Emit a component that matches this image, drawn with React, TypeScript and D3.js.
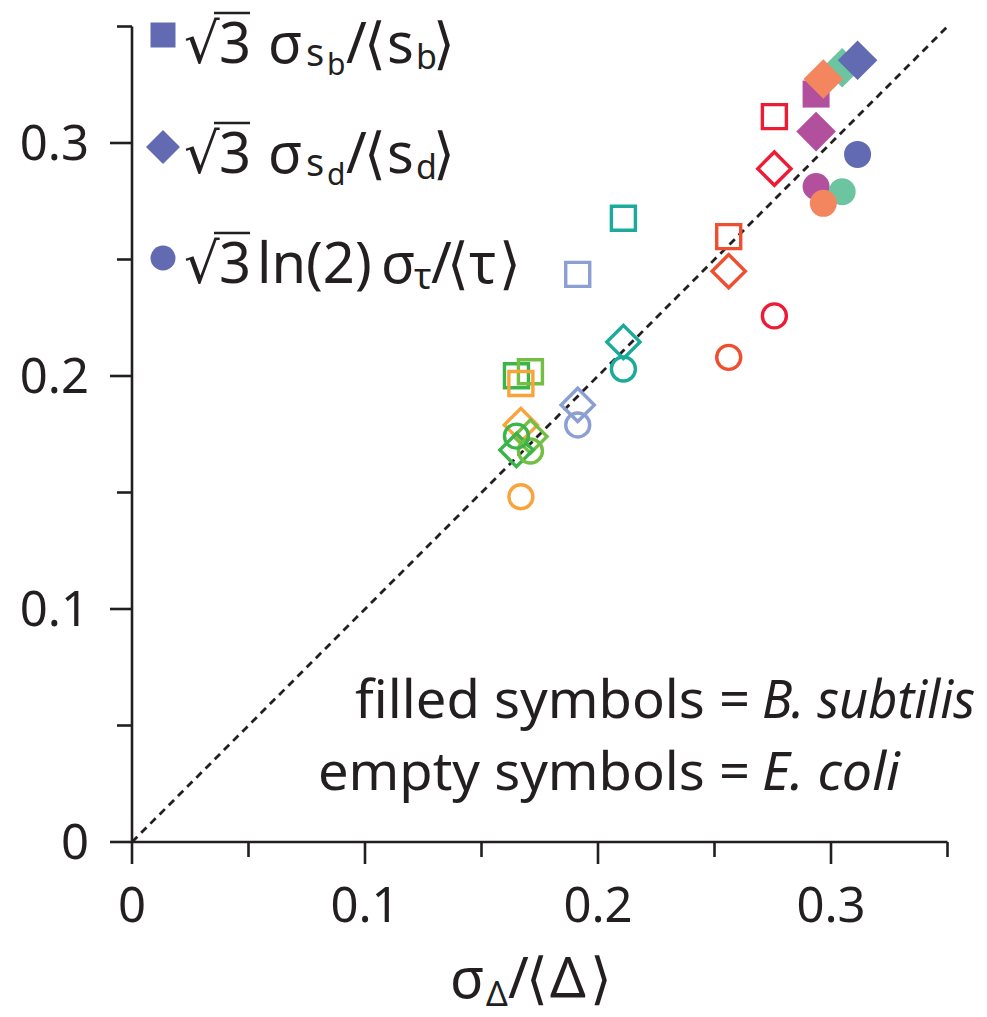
import React from "react";
import * as d3 from "d3";

// ---------- data ----------
const ecoliStrains = ["red", "redorange", "teal", "lightblue", "orange", "lightgreen", "darkgreen"];
const ecoliX = [0.2757, 0.2561, 0.2109, 0.1913, 0.1669, 0.1710, 0.1650];
const ecoliSb = [0.3113, 0.2598, 0.2677, 0.2436, 0.1968, 0.2018, 0.2001];
const ecoliSd = [0.2890, 0.2450, 0.2146, 0.1876, 0.1790, 0.1740, 0.1682];
const ecoliTau = [0.2258, 0.2080, 0.2030, 0.1790, 0.1482, 0.1678, 0.1742];

const bsubStrains = ["blue", "green", "orange", "magenta"];
const bsubX = [0.3114, 0.3048, 0.2967, 0.2936];
const bsubSb: (number | null)[] = [null, null, null, 0.3210];
const bsubSd = [0.3355, 0.3323, 0.3275, 0.3049];
const bsubTau = [0.2951, 0.2791, 0.2741, 0.2813];

const xTicksMajor = [0, 0.1, 0.2, 0.3];
const xTicksMinor = [0.05, 0.15, 0.25, 0.35];
const yTicksMajor = [0, 0.1, 0.2, 0.3];
const yTicksMinor = [0.05, 0.15, 0.25, 0.35];

const colors: Record<string, string> = {
  red: "#ed1c36",
  redorange: "#f04e30",
  teal: "#1aab9b",
  lightblue: "#8c9fd3",
  orange: "#f9a33b",
  lightgreen: "#72bf44",
  darkgreen: "#3bb44a",
  blue: "#626bb2",
  green: "#6cc5a0",
  salmon: "#f4865f",
  magenta: "#b2509e",
};
const bsubColor = (s: string) => (s === "orange" ? colors.salmon : colors[s]);

const W = 987;
const H = 1017;
const INK = "#231f20";
const FONT = "'Noto Sans', 'DejaVu Sans', sans-serif";

export default function App() {
  const x = d3.scaleLinear().domain([0, 0.35]).range([132, 947.5]);
  const y = d3.scaleLinear().domain([0, 0.35]).range([842, 26.5]);

  const sq = (side: number) => d3.symbol().type(d3.symbolSquare).size(side * side)()!;
  const circ = (r: number) => d3.symbol().type(d3.symbolCircle).size(Math.PI * r * r)()!;

  const emptyStroke = 3.4;
  const eSq = sq(24);
  const eDia = sq(23.5);
  const eCirc = circ(12);
  const fSq = sq(27);
  const fDia = sq(28);
  const fCirc = circ(13.5);

  const line = d3.line<[number, number]>().x((d) => x(d[0])).y((d) => y(d[1]));

  return (
    <svg
      width={W}
      height={H}
      viewBox={`0 0 ${W} ${H}`}
      style={{ position: "absolute", left: 0, top: 0, background: "#fff" }}
      fontFamily={FONT}
    >
      <rect width={W} height={H} fill="#fff" />
      {/* diagonal */}
      <path
        d={line([[0, 0], [0.35, 0.35]])!}
        stroke={INK}
        strokeWidth={2.8}
        strokeDasharray="7.5 5.5"
        fill="none"
      />

      {/* axes */}
      <g stroke={INK} strokeWidth={2.6} fill="none">
        <line x1={x(0)} x2={x(0)} y1={y(0.35)} y2={y(0)} />
        <line x1={x(0)} x2={x(0.35)} y1={y(0)} y2={y(0)} />
        {yTicksMajor.map((t) => (
          <line key={"ym" + t} x1={x(0) - 22} x2={x(0)} y1={y(t)} y2={y(t)} />
        ))}
        {yTicksMinor.map((t) => (
          <line key={"yn" + t} x1={x(0) - 15} x2={x(0)} y1={y(t)} y2={y(t)} />
        ))}
        {xTicksMajor.map((t) => (
          <line key={"xm" + t} x1={x(t)} x2={x(t)} y1={y(0)} y2={y(0) + 22} />
        ))}
        {xTicksMinor.map((t) => (
          <line key={"xn" + t} x1={x(t)} x2={x(t)} y1={y(0)} y2={y(0) + 15} />
        ))}
      </g>
      <g fill={INK} fontSize={49}>
        {yTicksMajor.map((t) => (
          <text key={"yl" + t} x={89} y={y(t) + 17} textAnchor="end">
            {t === 0 ? "0" : d3.format(".1f")(t)}
          </text>
        ))}
        {xTicksMajor.map((t) => (
          <text key={"xl" + t} x={x(t)} y={922} textAnchor="middle">
            {t === 0 ? "0" : d3.format(".1f")(t)}
          </text>
        ))}
      </g>

      {/* E. coli, empty symbols */}
      <g fill="none" strokeWidth={emptyStroke}>
        {ecoliStrains.map((s, i) => (
          <path key={"es" + s} d={eSq} stroke={colors[s]} transform={`translate(${x(ecoliX[i])},${y(ecoliSb[i])})`} />
        )).reverse()}
        {ecoliStrains.map((s, i) => (
          <path key={"ed" + s} d={eDia} stroke={colors[s]} transform={`translate(${x(ecoliX[i])},${y(ecoliSd[i])}) rotate(45)`} />
        ))}
        {ecoliStrains.map((s, i) => (
          <path key={"ec" + s} d={eCirc} stroke={colors[s]} transform={`translate(${x(ecoliX[i])},${y(ecoliTau[i])})`} />
        ))}
      </g>

      {/* B. subtilis, filled symbols */}
      <g stroke="none">
        {bsubStrains.map((s, i) =>
          bsubSb[i] == null ? null : (
            <path key={"fs" + s} d={fSq} fill={bsubColor(s)} transform={`translate(${x(bsubX[i])},${y(bsubSb[i] as number)})`} />
          )
        )}
        {[1, 0, 2, 3].map((i) => (
          <path key={"fd" + i} d={fDia} fill={bsubColor(bsubStrains[i])} transform={`translate(${x(bsubX[i])},${y(bsubSd[i])}) rotate(45)`} />
        ))}
        {[0, 3, 1, 2].map((i) => (
          <path key={"fc" + i} d={fCirc} fill={bsubColor(bsubStrains[i])} transform={`translate(${x(bsubX[i])},${y(bsubTau[i])})`} />
        ))}
      </g>

      {/* legend */}
      <g fill={colors.blue}>
        <path d={sq(25)} transform="translate(163,35)" />
        <path d={sq(24)} transform="translate(163,147) rotate(45)" />
        <path d={circ(12.5)} transform="translate(163,258)" />
      </g>
      <g fill={INK} fontSize={56}>
        {[
          { y: 63, sub: "b" },
          { y: 173, sub: "d" },
        ].map((r) => (
          <g key={r.sub}>
            <text x={184} y={r.y}>√</text>
            <line x1={214} x2={250} y1={r.y - 50} y2={r.y - 50} stroke={INK} strokeWidth={2.6} />
            <text x={219} y={r.y}>3</text>
            <text x={268} y={r.y}>σ</text>
            <text x={306} y={r.y + 3} fontSize={38}>s</text>
            <text x={327} y={r.y + 12} fontSize={30}>{r.sub}</text>
            <text x={346} y={r.y}>/</text>
            <text x={364} y={r.y}>⟨</text>
            <text x={387} y={r.y}>s</text>
            <text x={416} y={r.y + 6} fontSize={34}>{r.sub}</text>
            <text x={433} y={r.y}>⟩</text>
          </g>
        ))}
        <g>
          <text x={184} y={283}>√</text>
          <line x1={214} x2={250} y1={233} y2={233} stroke={INK} strokeWidth={2.6} />
          <text x={219} y={283}>3</text>
          <text x={257} y={283}>ln(2)</text>
          <text x={381} y={283}>σ</text>
          <text x={414} y={289} fontSize={36}>τ</text>
          <text x={431} y={283}>/</text>
          <text x={447} y={283}>⟨</text>
          <text x={469} y={283}>τ</text>
          <text x={499} y={283}>⟩</text>
        </g>
      </g>

      {/* note */}
      <g fill={INK} fontSize={53}>
        <text x={750} y={718} textAnchor="end" textLength={395} lengthAdjust="spacingAndGlyphs">
          filled symbols =
        </text>
        <text x={762} y={718} fontStyle="italic" textLength={213} lengthAdjust="spacingAndGlyphs">
          B. subtilis
        </text>
        <text x={750} y={790} textAnchor="end" textLength={432} lengthAdjust="spacingAndGlyphs">
          empty symbols =
        </text>
        <text x={762} y={790} fontStyle="italic" textLength={138} lengthAdjust="spacingAndGlyphs">
          E. coli
        </text>
      </g>

      {/* x axis title */}
      <g fill={INK} fontSize={56}>
        <text x={450} y={998}>σ</text>
        <text x={486} y={1006} fontSize={34}>Δ</text>
        <text x={508} y={998}>/</text>
        <text x={526} y={998}>⟨</text>
        <text x={550} y={998}>Δ</text>
        <text x={590} y={998}>⟩</text>
      </g>
    </svg>
  );
}
